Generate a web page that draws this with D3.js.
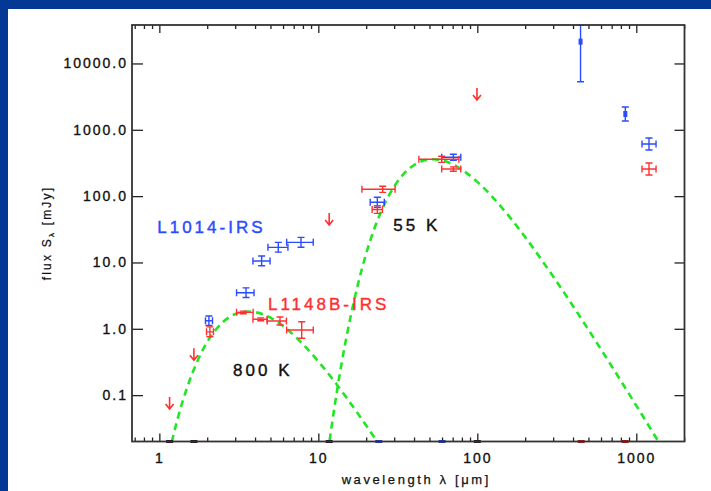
<!DOCTYPE html>
<html>
<head>
<meta charset="utf-8">
<script src="https://cdn.jsdelivr.net/npm/d3@7"></script>
<style>
  body { margin: 0; background: #fff; }
  svg { display: block; font-family: "Liberation Sans", Arial, sans-serif; }
</style>
</head>
<body>
<svg id="sed"></svg>
<script>
// ---- data: wavelength [um], flux [mJy] ----
// L1014-IRS (blue)
const blueLam     = [2.05, 3.51, 4.40, 5.60, 7.78, 23.5, 70.7, 446, 853, 1202];
const blueFlux    = [1.32, 3.5, 10.5, 16.9, 20.1, 80.7, 385, 21300, 1730, 611];
const blueLamErr  = [[1.95, 2.16], [3.06, 3.94], [3.88, 4.97], [4.82, 6.44], [6.32, 9.29],
                     [21.2, 26.0], [59.7, 78.7], [446, 446], [853, 853], [1086, 1331]];
const blueFluxErr = [[1.12, 1.56], [2.96, 4.14], [8.9, 12.5], [14.3, 20.1], [17.0, 23.9],
                     [68, 96], [347, 427], [5300, 38000], [1357, 2206], [496, 752]];

// L1148B-IRS (red)
const redLam     = [2.08, 3.37, 4.34, 5.74, 7.86, 23.5, 25.4, 59.7, 70.7, 1202];
const redFlux    = [0.90, 1.77, 1.39, 1.31, 0.96, 63, 127, 359, 256, 256];
const redLamErr  = [[1.98, 2.19], [3.06, 3.89], [3.88, 4.76], [4.77, 6.30], [6.32, 9.29],
                    [21.8, 25.3], [18.8, 30.4], [42.9, 76.6], [59.7, 78.7], [1086, 1331]];
const redFluxErr = [[0.76, 1.07], [1.69, 1.85], [1.32, 1.46], [1.14, 1.51], [0.72, 1.28],
                    [55, 72], [114, 141], [323, 399], [237, 276], [208, 315]];

// red upper limits
const limitLam  = [1.16, 1.65, 11.7, 99.5];
const limitFlux = [0.094, 0.51, 55.7, 4280];

// off-scale points sitting on the bottom axis
const floorLam   = [1.16, 1.65, 11.7, 24, 60, 100, 450, 850];
const floorColor = ["#221122", "#221122", "#221122", "#1f3fd0", "#1f3fd0", "#221122", "#b41818", "#b41818"];

// blackbody fits
const bb800Lam  = [1.15, 1.2, 1.3, 1.4, 1.5, 1.75, 2.0, 2.5, 3.0, 3.6, 4.5, 6.0, 8.0, 10, 13, 15, 20, 25];
const bb800Flux = [0.0131, 0.0202, 0.0431, 0.0799, 0.133, 0.341, 0.633, 1.25, 1.67, 1.82, 1.65, 1.10,
                   0.586, 0.323, 0.147, 0.0925, 0.0349, 0.0158];
const bb55Lam   = [11.5, 12, 13, 14, 16, 18, 20, 25, 30, 40, 52.7, 60, 70, 100, 150, 200, 300, 500, 700, 1000, 1400];
const bb55Flux  = [0.0137, 0.0285, 0.1025, 0.298, 1.57, 5.37, 13.6, 60.8, 139.7, 293.9, 360, 346.2, 302.2,
                   164.1, 58.1, 24.1, 6.15, 0.969, 0.273, 0.0696, 0.0188];

// ticks
const xTickMajor  = [1, 10, 100, 1000];
const xTickLabels = ["1", "10", "100", "1000"];
const xTickMinor  = [0.7, 0.8, 0.9, 2, 3, 4, 5, 6, 7, 8, 9, 20, 30, 40, 50, 60, 70, 80, 90,
                     200, 300, 400, 500, 600, 700, 800, 900, 2000];
const yTicks      = [0.1, 1, 10, 100, 1000, 10000];
const yTickLabels = ["0.1", "1.0", "10.0", "100.0", "1000.0", "10000.0"];

// ---- layout ----
const W = 711, H = 491;
const margin = { top: 25, right: 26.5, bottom: 49.5, left: 132 },
  width = W - margin.left - margin.right,
  height = H - margin.top - margin.bottom;

const BLUE = "#2a4bff", RED = "#ff3030", GREEN = "#22e622", INK = "#222";

const svg = d3.select("#sed").attr("width", W).attr("height", H);

// slide border (top and left strips)
svg.append("rect").attr("x", 0).attr("y", 0).attr("width", W).attr("height", 9).attr("fill", "#033894");
svg.append("rect").attr("x", 0).attr("y", 0).attr("width", 8).attr("height", H).attr("fill", "#033894");

const g = svg.append("g").attr("transform", "translate(" + margin.left + "," + margin.top + ")");

const x = d3.scaleLog().domain([0.673, 2010]).range([0, width]);
const y = d3.scaleLog().domain([0.02, 38000]).range([height, 0]);

g.append("defs").append("clipPath").attr("id", "plot-clip")
  .append("rect").attr("width", width).attr("height", height);

// axes: ticks point inwards, mirrored on top/right
function tidy(sel) {
  sel.select(".domain").remove();
  sel.selectAll("line").attr("stroke", INK).attr("stroke-width", 1.3);
  sel.attr("font-family", null).attr("font-size", null);
  sel.selectAll("text")
    .attr("fill", "#111").attr("stroke", "#111").attr("stroke-width", 0.35)
    .style("font-size", "14px").style("letter-spacing", "2px");
}

g.append("g").attr("transform", `translate(0,${height})`)
  .call(d3.axisBottom(x).tickValues(xTickMajor).tickSize(-8).tickPadding(12)
    .tickFormat((d, i) => xTickLabels[i]))
  .call(tidy);
g.append("g").attr("transform", `translate(0,${height})`)
  .call(d3.axisBottom(x).tickValues(xTickMinor).tickSize(-4).tickFormat(""))
  .call(tidy);
g.append("g")
  .call(d3.axisTop(x).tickValues(xTickMajor).tickSize(-8).tickFormat(""))
  .call(tidy);
g.append("g")
  .call(d3.axisTop(x).tickValues(xTickMinor).tickSize(-4).tickFormat(""))
  .call(tidy);
g.append("g")
  .call(d3.axisLeft(y).tickValues(yTicks).tickSize(-11).tickPadding(4)
    .tickFormat((d, i) => yTickLabels[i]))
  .call(tidy);
g.append("g").attr("transform", `translate(${width},0)`)
  .call(d3.axisRight(y).tickValues(yTicks).tickSize(-10).tickFormat(""))
  .call(tidy);

// axis titles
g.append("text")
  .attr("x", width / 2 + 8).attr("y", height + 42)
  .attr("text-anchor", "middle")
  .style("font-size", "13px").style("letter-spacing", "2.6px")
  .attr("fill", "#111").attr("stroke", "#111").attr("stroke-width", 0.25)
  .text("wavelength λ [μm]");

const yTitle = g.append("text")
  .attr("transform", `translate(${51 - margin.left},${233 - margin.top}) rotate(-90)`)
  .attr("text-anchor", "middle")
  .style("font-size", "12px").style("letter-spacing", "2.2px")
  .attr("fill", "#111").attr("stroke", "#111").attr("stroke-width", 0.25);
yTitle.append("tspan").text("flux S");
yTitle.append("tspan").attr("dy", 3).style("font-size", "8px").text("λ");
yTitle.append("tspan").attr("dy", -3).text(" [mJy]");

// blackbody curves
const plot = g.append("g").attr("clip-path", "url(#plot-clip)");
const line = d3.line()
  .x(d => x(d[0]))
  .y(d => y(d[1]))
  .curve(d3.curveMonotoneX);

[[bb800Lam, bb800Flux], [bb55Lam, bb55Flux]].forEach(function (bb) {
  plot.append("path")
    .datum(bb[0].map((l, i) => [l, bb[1][i]]))
    .attr("d", line)
    .attr("fill", "none")
    .attr("stroke", GREEN)
    .attr("stroke-width", 2.6)
    .attr("stroke-dasharray", "7,5");
});

// photometry with error bars
function drawPoints(lam, flux, lamErr, fluxErr, color) {
  const cap = 3.5;
  const data = lam.map((l, i) => ({ l: l, f: flux[i], xe: lamErr[i], ye: fluxErr[i] }));
  const pts = plot.append("g").selectAll("g")
    .data(data)
    .join("g")
    .attr("stroke", color)
    .attr("stroke-width", 1.4);

  const hasX = d => d.xe[1] > d.xe[0];
  pts.filter(hasX).append("line")
    .attr("x1", d => x(d.xe[0])).attr("x2", d => x(d.xe[1]))
    .attr("y1", d => y(d.f)).attr("y2", d => y(d.f));
  pts.filter(hasX).append("line")
    .attr("x1", d => x(d.xe[0])).attr("x2", d => x(d.xe[0]))
    .attr("y1", d => y(d.f) - cap).attr("y2", d => y(d.f) + cap);
  pts.filter(hasX).append("line")
    .attr("x1", d => x(d.xe[1])).attr("x2", d => x(d.xe[1]))
    .attr("y1", d => y(d.f) - cap).attr("y2", d => y(d.f) + cap);

  pts.append("line")
    .attr("x1", d => x(d.l)).attr("x2", d => x(d.l))
    .attr("y1", d => y(d.ye[0])).attr("y2", d => y(d.ye[1]));
  pts.append("line")
    .attr("x1", d => x(d.l) - cap).attr("x2", d => x(d.l) + cap)
    .attr("y1", d => y(d.ye[0])).attr("y2", d => y(d.ye[0]));
  pts.append("line")
    .attr("x1", d => x(d.l) - cap).attr("x2", d => x(d.l) + cap)
    .attr("y1", d => y(d.ye[1])).attr("y2", d => y(d.ye[1]));

  // only the single-band points without a wavelength range get a filled marker
  pts.filter(d => !hasX(d)).append("rect")
    .attr("x", d => x(d.l) - 2).attr("y", d => y(d.f) - 3)
    .attr("width", 4).attr("height", 6)
    .attr("fill", color).attr("stroke", "none");
}

drawPoints(blueLam, blueFlux, blueLamErr, blueFluxErr, BLUE);
drawPoints(redLam, redFlux, redLamErr, redFluxErr, RED);

// upper limits
plot.append("g")
  .attr("stroke", RED).attr("stroke-width", 1.6).attr("fill", "none")
  .selectAll("path")
  .data(limitLam.map((l, i) => [l, limitFlux[i]]))
  .join("path")
  .attr("d", function (d) {
    const px = x(d[0]), py = y(d[1]);
    return `M${px},${py}V${py + 12}M${px - 4},${py + 7}L${px},${py + 12}L${px + 4},${py + 7}`;
  });

// off-scale markers on the floor
g.append("g").selectAll("rect")
  .data(floorLam)
  .join("rect")
  .attr("x", d => x(d) - 3.5).attr("y", height - 1.5)
  .attr("width", 7).attr("height", 3)
  .attr("fill", (d, i) => floorColor[i]);

// frame
g.append("rect")
  .attr("width", width).attr("height", height)
  .attr("fill", "none").attr("stroke", "#333").attr("stroke-width", 1.8);

// annotations
const notes = [
  { t: "L1014-IRS", l: 0.97, f: 28, c: BLUE },
  { t: "L1148B-IRS", l: 4.82, f: 1.93, c: RED },
  { t: "800 K", l: 2.91, f: 0.195, c: "#111" },
  { t: "55 K", l: 29.6, f: 30.1, c: "#111" }
];
g.selectAll("text.note")
  .data(notes)
  .join("text")
  .attr("class", "note")
  .attr("x", d => x(d.l)).attr("y", d => y(d.f))
  .attr("fill", d => d.c).attr("stroke", d => d.c).attr("stroke-width", 0.4)
  .style("font-size", "17px").style("letter-spacing", "3px")
  .text(d => d.t);
</script>
</body>
</html>
